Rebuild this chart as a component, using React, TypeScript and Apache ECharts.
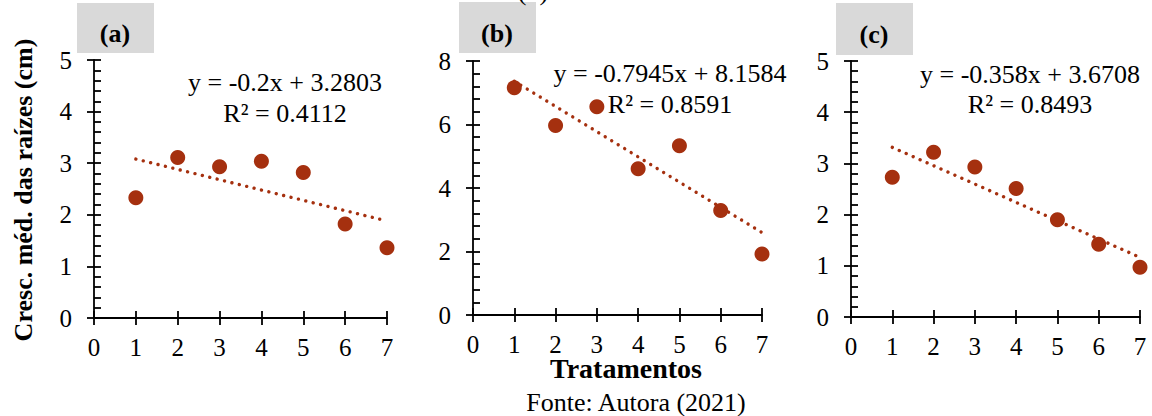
import React, { useEffect, useRef } from "react";
import * as echarts from "echarts";

const treatments = [1, 2, 3, 4, 5, 6, 7];
const rootA = [2.33, 3.11, 2.93, 3.04, 2.82, 1.82, 1.36];
const rootB = [7.16, 5.97, 6.56, 4.61, 5.33, 3.29, 1.92];
const rootC = [2.73, 3.22, 2.93, 2.51, 1.9, 1.42, 0.97];
const slopes = [-0.2, -0.7945, -0.358];
const intercepts = [3.2803, 8.1584, 3.6708];
const equations = ["y = -0.2x + 3.2803", "y = -0.7945x + 8.1584", "y = -0.358x + 3.6708"];
const r2Labels = ["R² = 0.4112", "R² = 0.8591", "R² = 0.8493"];
const panelLabels = ["(a)", "(b)", "(c)"];
const yMax = [5, 8, 5];
const yInterval = [1, 2, 1];
const xTitle = "Tratamentos";
const yTitle = "Cresc. méd. das raízes (cm)";
const sourceText = "Fonte: Autora (2021)";

const FONT = "'Liberation Serif', 'Times New Roman', serif";
const MARK = "#A5300F";

export default function App() {
  const ref = useRef<HTMLDivElement>(null);
  useEffect(() => {
    if (!ref.current) return;
    const chart = echarts.init(ref.current, null, { renderer: "svg" });
    const grids = [
      { left: 94, top: 60, width: 293, height: 258 },
      { left: 473, top: 61, width: 289, height: 254 },
      { left: 851, top: 61, width: 289, height: 256 },
    ];
    const data = [rootA, rootB, rootC];
    const xAxes: any[] = [];
    const yAxes: any[] = [];
    const series: any[] = [];
    grids.forEach((g, i) => {
      const lineStyle = { color: "#000", width: 1.8 };
      xAxes.push({
        type: "value", gridIndex: i, position: "bottom", min: 0, max: 7, interval: 1,
        axisLine: { show: true, lineStyle },
        axisTick: { show: true, length: 7, lineStyle },
        axisLabel: { color: "#000", fontFamily: FONT, fontSize: 25, margin: 17 },
        splitLine: { show: false },
      });
      xAxes.push({
        type: "value", gridIndex: i, position: "bottom", min: 0, max: 7, interval: 1,
        axisLine: { show: false },
        axisTick: { show: true, inside: true, length: 7, lineStyle },
        axisLabel: { show: false },
        splitLine: { show: false },
      });
      yAxes.push({
        type: "value", gridIndex: i, position: "left", min: 0, max: yMax[i], interval: yInterval[i],
        axisLine: { show: true, lineStyle },
        axisTick: { show: true, length: 7, lineStyle },
        axisLabel: { color: "#000", fontFamily: FONT, fontSize: 25, margin: 22 },
        splitLine: { show: false },
      });
      yAxes.push({
        type: "value", gridIndex: i, position: "left", min: 0, max: yMax[i], interval: yInterval[i],
        axisLine: { show: false },
        axisTick: { show: true, inside: true, length: 7, lineStyle },
        minorTick: { show: true, splitNumber: 5, length: 7, lineStyle },
        axisLabel: { show: false },
        splitLine: { show: false },
      });
      series.push({
        type: "line", xAxisIndex: i * 2, yAxisIndex: i * 2, symbol: "none", z: 2,
        data: [1, 7].map((x) => [x, slopes[i] * x + intercepts[i]]),
        lineStyle: { color: MARK, width: 3.4, type: [0.01, 7.6], cap: "round" },
      });
      series.push({
        type: "scatter", xAxisIndex: i * 2, yAxisIndex: i * 2, symbolSize: 15, z: 3,
        data: treatments.map((x, k) => [x, data[i][k]]),
        itemStyle: { color: MARK, opacity: 1 },
      });
    });

    const boxes = [
      { x: 77, y: 3, w: 77, h: 50, cx: 115, cy: 33 },
      { x: 459, y: 2, w: 77, h: 51, cx: 497, cy: 33 },
      { x: 836, y: 3, w: 77, h: 52, cx: 874, cy: 34 },
    ];
    const eqPos = [
      { cx: 285, y1: 82, y2: 113 },
      { cx: 670, y1: 73, y2: 104 },
      { cx: 1030, y1: 74, y2: 104 },
    ];
    const graphic: any[] = [];
    const txt = (text: string, x: number, y: number, size: number, bold: boolean, extra: any = {}) => ({
      type: "text", x, y, z: 5, ...extra,
      style: { text, fill: "#000", fontFamily: FONT, fontSize: size, fontWeight: bold ? "bold" : "normal", align: "center", verticalAlign: "middle" },
    });
    boxes.forEach((b, i) => {
      graphic.push({ type: "rect", shape: { x: b.x, y: b.y, width: b.w, height: b.h }, style: { fill: "#d9d9d9" }, z: 0 });
      graphic.push(txt(panelLabels[i], b.cx, b.cy, 26, true));
    });
    eqPos.forEach((e, i) => {
      graphic.push(txt(equations[i], e.cx, e.y1, 26, false));
      graphic.push(txt(r2Labels[i], e.cx, e.y2, 26, false));
    });
    graphic.push(txt("(b)", 533, -9, 26, false));
    graphic.push(txt(xTitle, 626, 368, 28, true));
    graphic.push(txt(sourceText, 636, 402, 26, false));
    graphic.push(txt(yTitle, 23, 190, 26, true, { rotation: Math.PI / 2 }));

    chart.setOption({
      animation: false,
      backgroundColor: "#fff",
      grid: grids,
      xAxis: xAxes,
      yAxis: yAxes,
      series,
      graphic,
    });
    return () => chart.dispose();
  }, []);
  return <div ref={ref} style={{ position: "fixed", left: 0, top: 0, width: 1152, height: 416 }} />;
}
